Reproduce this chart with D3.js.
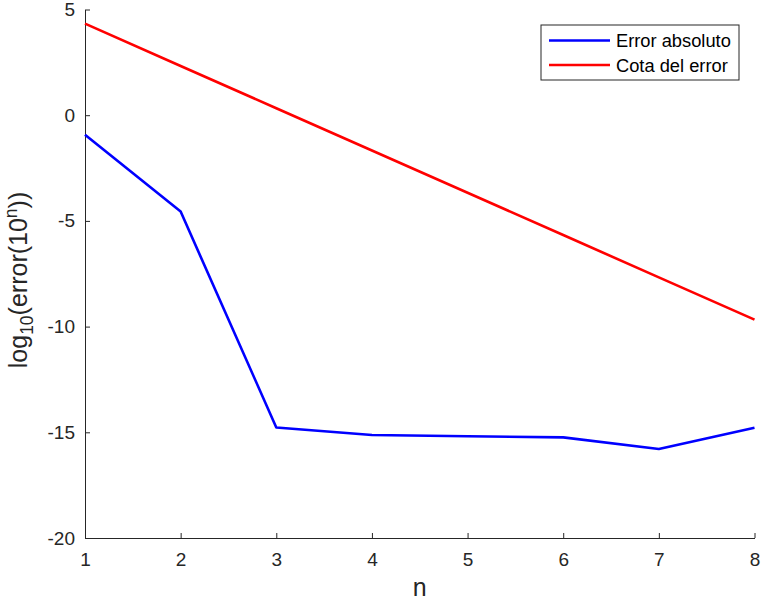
<!DOCTYPE html>
<html>
<head>
<meta charset="utf-8">
<script src="https://cdn.jsdelivr.net/npm/d3@7"></script>
<style>
  body { margin: 0; background: #fff; }
  text { font-family: "Liberation Sans", Arial, sans-serif; fill: #262626; }
</style>
</head>
<body>
<div id="chart"></div>
<script>
const nValues = [1, 2, 3, 4, 5, 6, 7, 8];
const errorAbs = [-0.93, -4.56, -14.77, -15.13, -15.19, -15.24, -15.79, -14.78];
const errorBound = [4.33, 2.33, 0.33, -1.67, -3.67, -5.67, -7.67, -9.67];
const yTicks = [5, 0, -5, -10, -15, -20];
const seriesNames = ['Error absoluto', 'Cota del error'];
const seriesColors = ['#0000ff', '#ff0000'];

const width = 762, height = 600;
const margin = { top: 9.5, right: 7.5, bottom: 62, left: 85 };

const svg = d3.select('#chart').append('svg')
  .attr('width', width)
  .attr('height', height);

const x = d3.scaleLinear()
  .domain([1, 8])
  .range([margin.left, width - margin.right]);

const y = d3.scaleLinear()
  .domain([-20, 5])
  .range([height - margin.bottom, margin.top]);

// ejes (guion normal como en el original)
const xAxis = svg.append('g')
  .attr('transform', `translate(0,${y(-20)})`)
  .call(d3.axisBottom(x).tickValues(nValues).tickFormat(d => String(d)).tickSizeInner(-5).tickSizeOuter(0).tickPadding(14.5));

const yAxis = svg.append('g')
  .attr('transform', `translate(${x(1)},0)`)
  .call(d3.axisLeft(y).tickValues(yTicks).tickFormat(d => String(d)).tickSizeInner(-5).tickSizeOuter(0).tickPadding(10));

[xAxis, yAxis].forEach(g => {
  g.select('.domain').attr('stroke', '#262626').attr('stroke-width', 1);
  g.selectAll('.tick line').attr('stroke', '#262626');
  g.selectAll('.tick text')
    .style('font-family', '"Liberation Sans", Arial, sans-serif')
    .style('font-size', '19px')
    .attr('fill', '#262626');
});

// etiquetas
svg.append('text')
  .attr('x', (x(1) + x(8)) / 2)
  .attr('y', 596)
  .attr('text-anchor', 'middle')
  .style('font-size', '25px')
  .text('n');

const yLabel = svg.append('text')
  .attr('transform', `translate(27,280) rotate(-90)`)
  .attr('text-anchor', 'middle')
  .style('font-size', '25px');
yLabel.append('tspan').text('log');
yLabel.append('tspan').attr('dy', 6).style('font-size', '17.5px').text('10');
yLabel.append('tspan').attr('dy', -6).text('(error(10');
yLabel.append('tspan').attr('dy', -10).style('font-size', '17.5px').text('n');
yLabel.append('tspan').attr('dy', 10).text('))');

// lineas
const line = d3.line()
  .x((d, i) => x(nValues[i]))
  .y(d => y(d));

[errorAbs, errorBound].forEach((s, i) => {
  svg.append('path')
    .datum(s)
    .attr('fill', 'none')
    .attr('stroke', seriesColors[i])
    .attr('stroke-width', 2.6)
    .attr('stroke-linejoin', 'round')
    .attr('d', line);
});

// leyenda
const legend = svg.append('g').attr('transform', 'translate(541,25)');
legend.append('rect')
  .attr('width', 198)
  .attr('height', 55)
  .attr('fill', '#fff')
  .attr('stroke', '#262626')
  .attr('stroke-width', 1);

seriesNames.forEach((name, i) => {
  const ly = 15.5 + i * 24.5;
  legend.append('line')
    .attr('x1', 8).attr('x2', 69)
    .attr('y1', ly).attr('y2', ly)
    .attr('stroke', seriesColors[i])
    .attr('stroke-width', 2.6);
  legend.append('text')
    .attr('x', 75)
    .attr('y', ly + 6.5)
    .style('font-size', '18.3px')
    .style('fill', '#000')
    .text(name);
});
</script>
</body>
</html>
